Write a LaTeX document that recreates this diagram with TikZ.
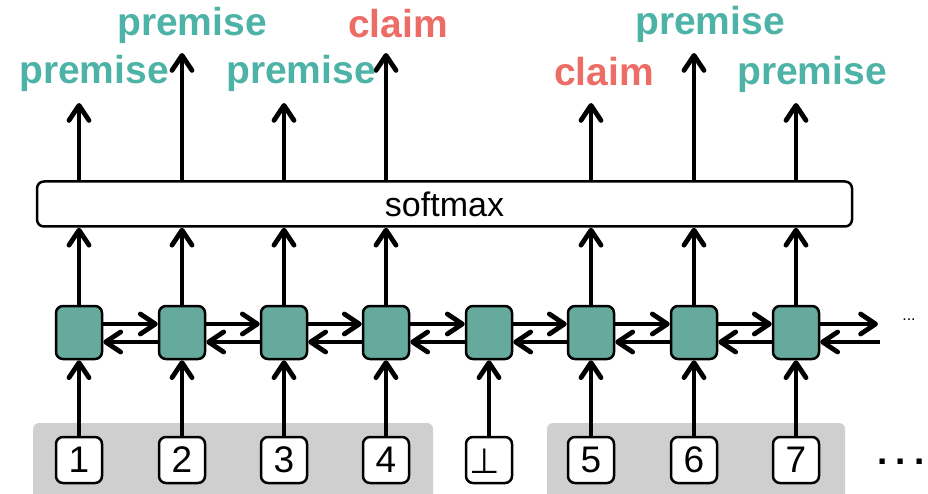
\documentclass[tikz,border=0pt]{standalone}
\usepackage{fontspec}
\setmainfont{Liberation Sans}
\newfontfamily\symbolfont{DejaVu Sans}
\usetikzlibrary{arrows.meta}

\definecolor{premcol}{RGB}{77,179,166}
\definecolor{claimcol}{RGB}{236,108,102}
\definecolor{cellfill}{RGB}{102,170,158}
\definecolor{bandgray}{RGB}{208,207,208}

\tikzset{
  cell/.style={draw=black, line width=2.5pt, fill=cellfill, rounded corners=7pt,
    minimum width=46pt, minimum height=53pt, inner sep=0pt},
  tok/.style={draw=black, line width=2.5pt, fill=white, rounded corners=7pt,
    minimum size=46pt, inner sep=0pt, font=\fontsize{37}{37}\selectfont},
  link/.style={line width=4.8pt,
    -{Straight Barb[length=15pt,width=20pt,round]}},
  lbl/.style={anchor=base, inner sep=0pt, font=\bfseries\fontsize{39}{39}\selectfont},
}

\begin{document}
\begin{tikzpicture}[x=1pt,y=-1pt]
\useasboundingbox (0,0) rectangle (928,494);

% grey bands behind the token groups
\fill[bandgray] (33,494) [rounded corners=6pt] -- (33,423) -- (433,423)
  [sharp corners] -- (433,494) -- cycle;
\fill[bandgray] (547,494) [rounded corners=6pt] -- (547,423) -- (845,423)
  [sharp corners] -- (845,494) -- cycle;

% input tokens
\node[tok] (in1) at (79,460) {1};
\node[tok] (in2) at (182,460) {2};
\node[tok] (in3) at (284,460) {3};
\node[tok] (in4) at (386,460) {4};
\node[tok] (in5) at (489,460) {};
\node[font=\symbolfont\fontsize{35}{35}\selectfont, inner sep=0pt, anchor=base]
  (bot) at (484.5,473.5) {⊥};
\node[tok] (in6) at (591,460) {5};
\node[tok] (in7) at (694,460) {6};
\node[tok] (in8) at (796,460) {7};
\node[font=\bfseries\fontsize{37}{37}\selectfont, inner sep=0pt] (more) at (901,462)
  {.\hspace{8pt}.\hspace{8pt}.};

% recurrent cells
\foreach \i/\x in {1/79,2/182,3/284,4/386,5/489,6/591,7/694,8/796}{
  \node[cell] (h\i) at (\x,332.5) {};
  \draw[link] (in\i) -- (h\i);
}

% forward and backward links between neighbouring cells
\foreach \i/\j in {1/2,2/3,3/4,4/5,5/6,6/7,7/8}{
  \draw[link] ([yshift=8.5pt]h\i.east) -- ([yshift=8.5pt]h\j.west);
  \draw[link] ([yshift=-9.5pt]h\j.west) -- ([yshift=-9.5pt]h\i.east);
}
\coordinate (fwdend) at (878,324);
\coordinate (bwdstart) at (880,342);
\draw[link] ([yshift=8.5pt]h8.east) -- (fwdend);
\draw[link] (bwdstart) -- ([yshift=-9.5pt]h8.east);
\node[font=\fontsize{16}{16}\selectfont, inner sep=0pt] (dots) at (909,320) {...};

% softmax layer
\node[draw=black, line width=2.5pt, fill=white, rounded corners=7pt,
  minimum width=815pt, minimum height=45pt, inner sep=0pt,
  font=\fontsize{34}{34}\selectfont] (soft) at (444.5,204) {softmax};

\foreach \i in {1,2,3,4,6,7,8}{
  \draw[link] (h\i) -- (h\i |- soft.south);
}

% output arrows
\coordinate (o1) at (79,103);
\coordinate (o2) at (182,53);
\coordinate (o3) at (284,103);
\coordinate (o4) at (386,53);
\coordinate (o6) at (591,103);
\coordinate (o7) at (694,53);
\coordinate (o8) at (796,103);
\foreach \i in {1,2,3,4,6,7,8}{
  \draw[link] (o\i |- soft.north) -- (o\i);
}

% output labels
\node[lbl, text=premcol] (l1) at (94,84) {premise};
\node[lbl, text=premcol] (l2) at (192,36) {premise};
\node[lbl, text=premcol] (l3) at (301,84) {premise};
\node[lbl, text=claimcol] (l4) at (398,38) {claim};
\node[lbl, text=claimcol] (l6) at (604,86) {claim};
\node[lbl, text=premcol] (l7) at (710,35) {premise};
\node[lbl, text=premcol] (l8) at (812,85) {premise};
\end{tikzpicture}
\end{document}
